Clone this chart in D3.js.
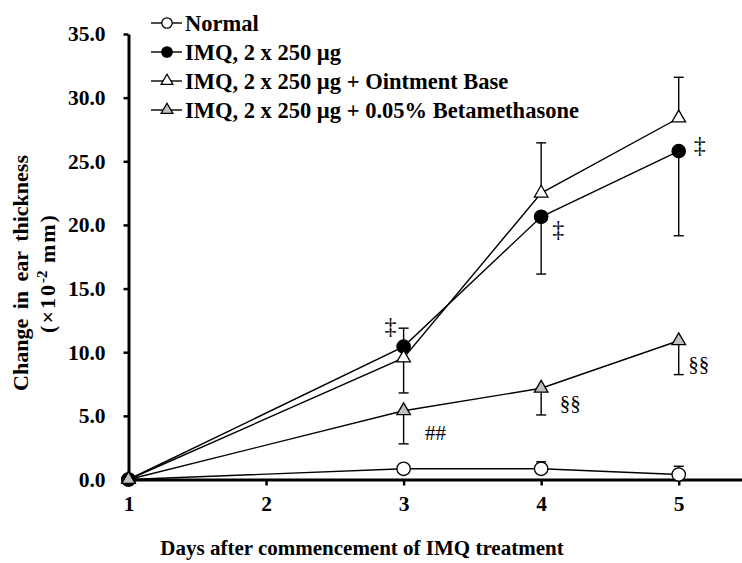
<!DOCTYPE html>
<html>
<head>
<meta charset="utf-8">
<script src="https://cdn.jsdelivr.net/npm/d3@7"></script>
<style>
  body { margin: 0; background: #fff; }
  text { font-family: "Times New Roman", "Liberation Serif", serif; }
</style>
</head>
<body>
<div id="graph"></div>
<script>
// Data
const days = [1, 3, 4, 5]
const seriesNames = ["Normal", "IMQ, 2 x 250 µg", "IMQ, 2 x 250 µg + Ointment Base", "IMQ, 2 x 250 µg + 0.05% Betamethasone"]
const normalValues = [0, 0.84, 0.84, 0.39]
const normalErr = [0, 0, 0.55, 0.65]
const imqValues = [0, 10.44, 20.64, 25.8]
const imqErr = [0, 1.45, 4.5, 6.65]
const ointValues = [0, 9.55, 22.5, 28.4]
const ointErr = [0, 2.75, 3.95, 3.2]
const betaValues = [0, 5.4, 7.17, 10.9]
const betaErr = [0, 2.6, 2.1, 2.66]
// +1 error bar drawn upward, -1 downward
const normalDir = [1, 1, 1, 1]
const imqDir = [1, 1, -1, -1]
const ointDir = [-1, -1, 1, 1]
const betaDir = [-1, -1, -1, -1]

const yTicks = [0, 5, 10, 15, 20, 25, 30, 35]
const xTicks = [1, 2, 3, 4, 5]

// significance marks
const markDays = [3, 4, 5, 3, 4, 5]
const markValues = [12.1, 19.7, 26.35, 3.7, 6.07, 9.08]
const markText = ["‡", "‡", "‡", "##", "§§", "§§"]
const markDx = [-13, 17, 21, 32, 29, 20]

const width = 742, height = 563

const svg = d3.select('#graph').append('svg').attr('width', width).attr('height', height)

const xScale = d3.scaleLinear().domain([1, 5.46]).range([128.5, 742])
const yScale = d3.scaleLinear().domain([0, 35]).range([479.5, 34])

const series = [
  { name: seriesNames[0], values: normalValues, err: normalErr, dir: normalDir, shape: 'circle', fill: '#fff' },
  { name: seriesNames[1], values: imqValues, err: imqErr, dir: imqDir, shape: 'circle', fill: '#000' },
  { name: seriesNames[2], values: ointValues, err: ointErr, dir: ointDir, shape: 'triangle', fill: '#fff' },
  { name: seriesNames[3], values: betaValues, err: betaErr, dir: betaDir, shape: 'triangle', fill: '#c0c0c0' }
]

// Axes
svg.append('g').attr('class', 'axis')
  .attr('transform', `translate(${xScale(1)}, 0)`)
  .call(d3.axisLeft(yScale).tickValues(yTicks).tickFormat(d3.format('.1f')).tickSize(5).tickPadding(18).tickSizeOuter(0))
svg.append('g').attr('class', 'axis')
  .attr('transform', `translate(0, ${yScale(0)})`)
  .call(d3.axisBottom(xScale).tickValues(xTicks).tickFormat(d3.format('d')).tickSize(6).tickPadding(10).tickSizeOuter(0))

svg.selectAll('.axis path').attr('stroke', '#000').attr('stroke-width', 3)
svg.selectAll('.axis line').attr('stroke', '#000').attr('stroke-width', 2.5)
svg.selectAll('.axis text')
  .attr('fill', '#000')
  .style('font-family', '"Times New Roman", "Liberation Serif", serif')
  .style('font-weight', 'bold')
  .style('font-size', '21.5px')

// Axis labels
svg.append('text')
  .attr('transform', `translate(362, 555)`)
  .attr('text-anchor', 'middle')
  .style('font-weight', 'bold').style('font-size', '21px')
  .text('Days after commencement of IMQ treatment')

svg.append('text')
  .attr('transform', `translate(28, 273) rotate(-90)`)
  .attr('text-anchor', 'middle')
  .style('font-weight', 'bold').style('font-size', '22px')
  .style('word-spacing', '4px')
  .text('Change in ear thickness')

const yl2 = svg.append('text')
  .attr('transform', `translate(55, 273) rotate(-90)`)
  .attr('text-anchor', 'middle')
  .style('font-weight', 'bold').style('font-size', '22px')
  .style('letter-spacing', '2px')
yl2.append('tspan').text('(×10')
yl2.append('tspan').attr('dy', -8).style('font-size', '15px').style('letter-spacing', '0px').text('-2')
yl2.append('tspan').attr('dy', 8).text(' mm)')

const line = d3.line().x((d, i) => xScale(days[i])).y(d => yScale(d))

const triangle = d3.symbol(d3.symbolTriangle, 80)
const triangleSmall = d3.symbol(d3.symbolTriangle, 60)

function drawMarker(g, s, x, y, small) {
  if (s.shape === 'circle') {
    g.append('circle').attr('cx', x).attr('cy', y).attr('r', small ? 5.2 : 6.7)
      .attr('fill', s.fill).attr('stroke', '#000').attr('stroke-width', 1.3)
  } else {
    g.append('path').attr('d', small ? triangleSmall() : triangle())
      .attr('transform', `translate(${x}, ${y})`)
      .attr('fill', s.fill).attr('stroke', '#000').attr('stroke-width', 1.3)
  }
}

// lines
series.forEach(s => {
  svg.append('path').datum(s.values)
    .attr('d', line)
    .attr('fill', 'none').attr('stroke', '#000').attr('stroke-width', 1.4)
})

// error bars
series.forEach(s => {
  s.values.forEach((v, i) => {
    if (!s.err[i]) return
    const x = xScale(days[i])
    const yEnd = yScale(v + s.dir[i] * s.err[i])
    svg.append('line').attr('x1', x).attr('x2', x).attr('y1', yScale(v)).attr('y2', yEnd)
      .attr('stroke', '#000').attr('stroke-width', 1.4)
    svg.append('line').attr('x1', x - 5).attr('x2', x + 5).attr('y1', yEnd).attr('y2', yEnd)
      .attr('stroke', '#000').attr('stroke-width', 1.4)
  })
})

// markers
series.forEach(s => {
  const g = svg.append('g')
  s.values.forEach((v, i) => drawMarker(g, s, xScale(days[i]), yScale(v), false))
})

// significance marks
markText.forEach((t, i) => {
  svg.append('text')
    .attr('x', xScale(markDays[i]) + markDx[i])
    .attr('y', yScale(markValues[i]))
    .attr('dy', '0.35em')
    .attr('text-anchor', 'middle')
    .attr('fill', '#000')
    .style('font-size', t === '‡' ? '24px' : '21px')
    .text(t)
})

// legend
const legend = svg.append('g')
series.forEach((s, i) => {
  const y = 23 + i * 29
  legend.append('line').attr('x1', 151).attr('x2', 182).attr('y1', y).attr('y2', y)
    .attr('stroke', '#000').attr('stroke-width', 1.4)
  drawMarker(legend, s, 167, y, true)
  legend.append('text').attr('x', 185).attr('y', y).attr('dy', '0.35em')
    .style('font-weight', 'bold').style('font-size', '22.5px')
    .text(s.name)
})
</script>
</body>
</html>
